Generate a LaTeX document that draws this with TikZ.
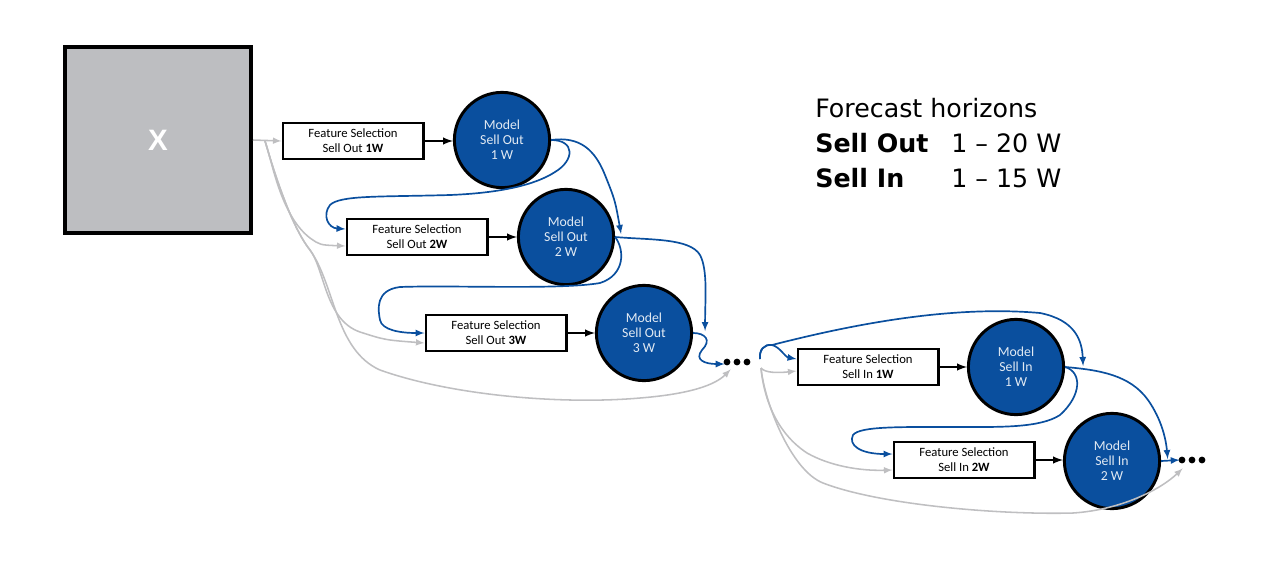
\documentclass[tikz,border=0pt]{standalone}
\usepackage{fontspec}
\usepackage{xcolor}
\setmainfont{Carlito}
\newfontfamily\legfont{DejaVu Sans}
\newfontfamily\xfont{Liberation Sans}
\usetikzlibrary{calc}

\definecolor{modblue}{RGB}{10,79,158}
\definecolor{linkgray}{RGB}{191,191,193}
\definecolor{xgray}{RGB}{189,190,193}

\begin{document}
\begin{tikzpicture}[x=0.025cm,y=-0.025cm,>=latex,
  xblock/.style={draw,line width=2.8pt,fill=xgray,minimum size=4.65cm,inner sep=0pt,text=white,font=\xfont\bfseries\fontsize{21}{24}\selectfont},
  fsbox/.style={draw,line width=2.1pt,fill=white,minimum width=3.5cm,minimum height=0.9cm,inner sep=0pt,align=center,font=\fontsize{9}{10.7}\selectfont},
  model/.style={circle,draw,line width=2.1pt,fill=modblue,minimum size=2.38cm,inner sep=0pt,align=center,text=white!88!modblue,font=\fontsize{9.8}{10.7}\selectfont},
  dotrow/.style={minimum width=0.6cm,minimum height=0.2cm,inner sep=0pt},
  feed/.style={->,line width=1.1pt,linkgray},
  pass/.style={->,line width=1.2pt,modblue},
  link/.style={->,line width=1.4pt},
  legend/.style={anchor=base west,inner sep=0pt,font=\legfont\fontsize{18}{22}\selectfont}]

\useasboundingbox (0,0) rectangle (1280,567);

\node[xblock] (xbox) at (158,140) {X};

\node[fsbox] (fsOutA) at (353,141) {Feature Selection\\Sell Out \textbf{1W}};
\node[model] (modOutA) at (502,140) {Model\\Sell Out\\1 W};
\node[fsbox] (fsOutB) at (417,237) {Feature Selection\\Sell Out \textbf{2W}};
\node[model] (modOutB) at (566,237) {Model\\Sell Out\\2 W};
\node[fsbox] (fsOutC) at (496,333) {Feature Selection\\Sell Out \textbf{3W}};
\node[model] (modOutC) at (644,333) {Model\\Sell Out\\3 W};
\node[dotrow] (dotsOut) at (737,362) {};

\node[fsbox] (fsInA) at (868,367) {Feature Selection\\Sell In \textbf{1W}};
\node[model] (modInA) at (1016,367) {Model\\Sell In\\1 W};
\node[fsbox] (fsInB) at (964,460) {Feature Selection\\Sell In \textbf{2W}};
\node[model] (modInB) at (1112,461) {Model\\Sell In\\2 W};
\node[dotrow] (dotsIn) at (1192,460) {};

\foreach \n in {dotsOut,dotsIn}
  \foreach \d in {-10,0,10}
    \fill ($(\n)+(\d,0)$) circle (0.085cm);

\node[legend] (lgTitle) at (815,117) {Forecast horizons};
\node[legend,font=\legfont\bfseries\fontsize{18}{22}\selectfont] (lgOut) at (815,152) {Sell Out};
\node[legend] (lgOutVal) at (951,152) {1 – 20 W};
\node[legend,font=\legfont\bfseries\fontsize{18}{22}\selectfont] (lgIn) at (815,187) {Sell In};
\node[legend] (lgInVal) at (951,187) {1 – 15 W};

\coordinate (xsplit) at (265,141);
\coordinate (inSplit) at (760,359);
\coordinate (inGray) at (761,368);

\draw[link] (fsOutA.east) -- (fsOutA.east -| modOutA.west);
\draw[link] (fsOutB.east) -- (fsOutB.east -| modOutB.west);
\draw[link] (fsOutC.east) -- (fsOutC.east -| modOutC.west);
\draw[link] (fsInA.east) -- (fsInA.east -| modInA.west);
\draw[link] (fsInB.east) -- (fsInB.east -| modInB.west);

\draw[feed] (xbox.east) -- (fsOutA.west);
\draw[feed] (xsplit) .. controls (272,160) and (280,215) .. (310,238) .. controls (320,245) .. ($(fsOutB.west)+(0,9)$);
\draw[feed] (xsplit) .. controls (272,165) and (290,225) .. (310,250) .. controls (325,270) and (325,320) .. (360,332) .. controls (385,340) .. ($(fsOutC.west)+(0,10)$);
\draw[feed] (xsplit) .. controls (272,165) and (290,225) .. (310,250) .. controls (335,285) and (335,350) .. (380,370) .. controls (450,395) and (560,405) .. (640,398) .. controls (690,394) and (715,385) .. ($(dotsOut.south west)+(6,3)$);

\draw[feed] (inGray) .. controls (765,373) and (778,373) .. ($(fsInA.west)+(0,4)$);
\draw[feed] (inGray) .. controls (763,390) and (772,430) .. (807,453) .. controls (830,466) and (860,471) .. ($(fsInB.west)+(0,10)$);
\draw[feed] (inGray) .. controls (764,400) and (790,470) .. (823,483) .. controls (880,505) and (1000,515) .. (1073,513) .. controls (1120,510) and (1160,490) .. ($(dotsIn.south west)+(3,4)$);

\draw[pass] (modOutA.east) .. controls (580,136) and (595,150) .. (605,175) .. controls (615,200) .. ($(modOutB.east)+(6,-3)$);
\draw[pass] (modOutA.east) .. controls (575,140) and (575,160) .. (555,172) .. controls (535,185) and (500,193) .. (450,195) .. controls (380,197) and (340,195) .. (330,205) .. controls (322,215) and (328,228) .. ($(fsOutB.west)+(0,-8)$);
\draw[pass] (modOutB.east) .. controls (650,240) and (690,238) .. (700,255) .. controls (708,270) and (705,300) .. ($(modOutC.east)+(12,-2)$);
\draw[pass] (modOutB.east) .. controls (625,250) and (625,275) .. (600,283) .. controls (560,290) and (450,285) .. (400,287) .. controls (375,290) and (378,310) .. (380,320) .. controls (382,330) and (400,333) .. (fsOutC.west);
\draw[pass] (modOutC.east) .. controls (705,333) and (712,340) .. (702,350) .. controls (694,360) and (705,364) .. ($(dotsOut.west)+(0,2)$);

\draw[pass] (inSplit) .. controls (759,350) and (764,344) .. (772,345) .. controls (780,347) and (785,357) .. ($(fsInA.west)+(0,-8)$);
\draw[pass] (inSplit) .. controls (759,350) and (764,344) .. (772,345) .. controls (850,325) and (950,305) .. (1040,313) .. controls (1075,320) and (1082,340) .. ($(modInA.east)+(18,-1)$);
\draw[pass] (modInA.east) .. controls (1100,370) and (1130,375) .. (1148,400) .. controls (1162,420) and (1166,440) .. ($(dotsIn.west)+(-12,-1)$);
\draw[pass] (modInA.east) .. controls (1082,372) and (1082,395) .. (1060,415) .. controls (1040,428) and (1000,427) .. (960,427) .. controls (900,427) and (860,426) .. (853,435) .. controls (848,445) and (860,454) .. ($(fsInB.west)+(0,-6)$);
\draw[pass] (modInB.east) -- (dotsIn.west);

\end{tikzpicture}
\end{document}
